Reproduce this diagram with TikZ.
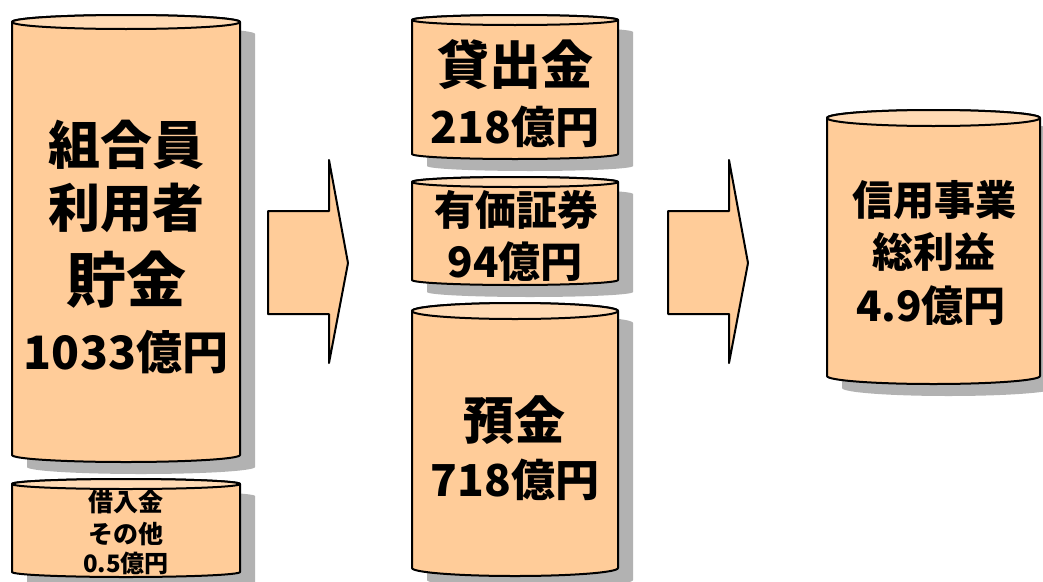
\documentclass[tikz,border=0pt]{standalone}
\usepackage{fontspec}
\newfontfamily\jp{Noto Sans CJK JP}
\definecolor{body}{HTML}{FFCC99}
\definecolor{topc}{HTML}{FFDAB4}
\definecolor{shadow}{HTML}{B2B2B2}
\tikzset{
  outline/.style={draw=black,line width=2pt,line join=round},
  lbl/.style={inner sep=0pt,font=\jp\bfseries},
}
% #1 x left, #2 x right, #3 y top-centre, #4 y bottom-centre, #5 y radius
\newcommand\drawcyl[5]{%
  \pgfmathsetmacro\rx{(#2-#1)/2}%
  \fill[shadow] (#1+15,#3+12) -- (#1+15,#4+12) arc[start angle=180,end angle=360,x radius=\rx pt,y radius=#5pt] -- (#2+15,#3+12) arc[start angle=0,end angle=180,x radius=\rx pt,y radius=#5pt] -- cycle;
  \draw[outline,fill=body] (#1,#3) -- (#1,#4) arc[start angle=180,end angle=360,x radius=\rx pt,y radius=#5pt] -- (#2,#3) arc[start angle=0,end angle=180,x radius=\rx pt,y radius=#5pt] -- cycle;
  \draw[outline,fill=topc] (#1,#3) arc[start angle=180,end angle=-180,x radius=\rx pt,y radius=#5pt];
}
\newcommand\drawarrow[1]{%
  \draw[outline,fill=body] (#1,211) -- (#1+61,211) -- (#1+61,160) -- (#1+80,263) -- (#1+61,363) -- (#1+61,314) -- (#1,314) -- cycle;
}
\begin{document}
\begin{tikzpicture}[x=1pt,y=-1pt]
\useasboundingbox (0,0) rectangle (1043,581);
% left cylinders
\drawcyl{12}{240}{22}{455}{7}
\drawcyl{12}{240}{484}{572}{5}
% middle cylinders
\drawcyl{412}{618}{20}{154}{5}
\drawcyl{412}{618}{182}{280}{5}
\drawcyl{412}{618}{311}{568}{8}
% right cylinder
\drawcyl{827}{1040}{118}{376}{8}
% arrows
\drawarrow{268}
\drawarrow{668}
% texts
\node[lbl,font=\jp\bfseries\fontsize{52}{56}\selectfont] (a1) at (126,145) {組合員};
\node[lbl,font=\jp\bfseries\fontsize{52}{56}\selectfont] (a2) at (126,208) {利用者};
\node[lbl,font=\jp\bfseries\fontsize{60}{64}\selectfont] (a3) at (126,280) {貯金};
\node[lbl,font=\jp\bfseries\fontsize{46}{50}\selectfont] (a4) at (126,352) {1033億円};
\node[lbl,font=\jp\bfseries\fontsize{25}{28}\selectfont] (b1) at (126,502) {借入金};
\node[lbl,font=\jp\bfseries\fontsize{25}{28}\selectfont] (b2) at (126,534) {その他};
\node[lbl,font=\jp\bfseries\fontsize{24}{28}\selectfont] (b3) at (126,563) {0.5億円};
\node[lbl,font=\jp\bfseries\fontsize{52}{56}\selectfont] (c1) at (515,65) {貸出金};
\node[lbl,font=\jp\bfseries\fontsize{44}{50}\selectfont] (c2) at (515,127) {218億円};
\node[lbl,font=\jp\bfseries\fontsize{41}{44}\selectfont] (d1) at (516,210) {有価証券};
\node[lbl,font=\jp\bfseries\fontsize{42}{44}\selectfont] (d2) at (515,262) {94億円};
\node[lbl,font=\jp\bfseries\fontsize{51}{54}\selectfont] (e1) at (514,420) {預金};
\node[lbl,font=\jp\bfseries\fontsize{44}{50}\selectfont] (e2) at (515,480) {718億円};
\node[lbl,font=\jp\bfseries\fontsize{41}{44}\selectfont] (f1) at (934,200) {信用事業};
\node[lbl,font=\jp\bfseries\fontsize{41}{44}\selectfont] (f2) at (934,252) {総利益};
\node[lbl,font=\jp\bfseries\fontsize{42}{44}\selectfont] (f3) at (931,306) {4.9億円};
\end{tikzpicture}
\end{document}
